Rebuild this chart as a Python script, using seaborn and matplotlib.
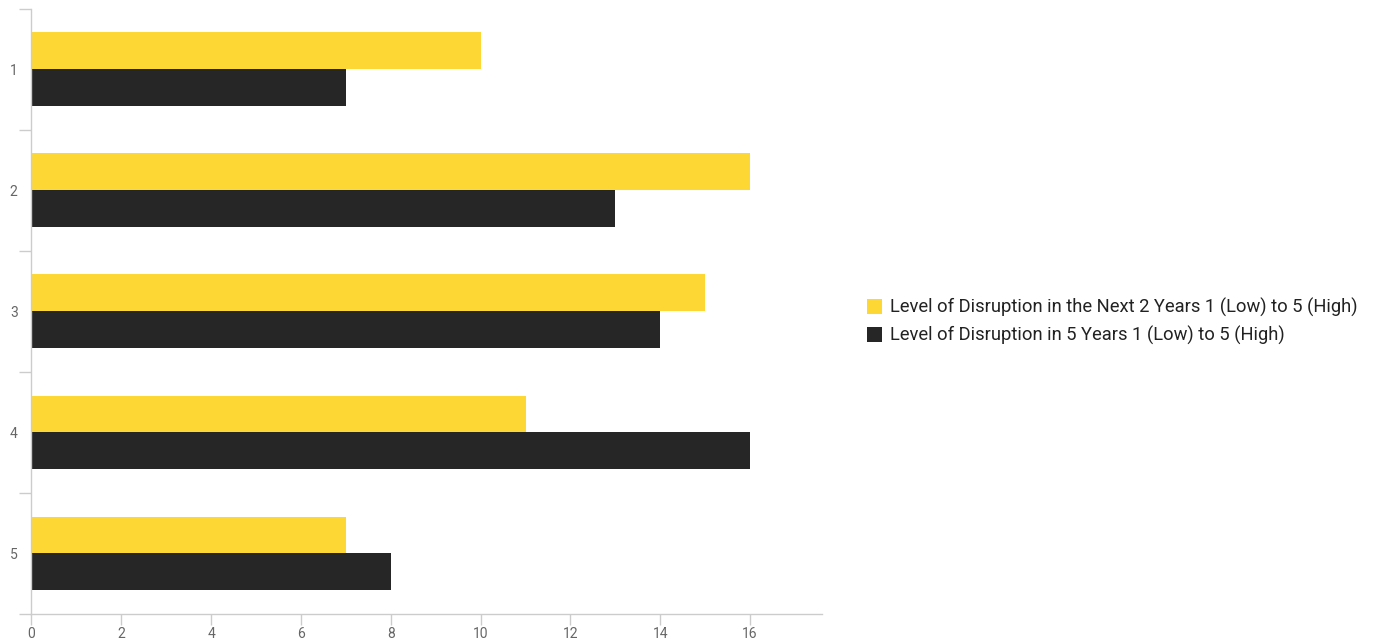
import matplotlib
matplotlib.use("Agg")
import matplotlib.pyplot as plt
import seaborn as sns
import pandas as pd
from matplotlib.patches import Patch

categories = ["1", "2", "3", "4", "5"]
series_names = ["Level of Disruption in the Next 2 Years 1 (Low) to 5 (High)",
                "Level of Disruption in 5 Years 1 (Low) to 5 (High)"]
next2_values = [10, 16, 15, 11, 7]
five_values = [7, 13, 14, 16, 8]
x_ticks = [0, 2, 4, 6, 8, 10, 12, 14, 16]
colors = ["#FDD835", "#262626"]

df = pd.DataFrame({
    "category": categories * 2,
    "value": next2_values + five_values,
    "series": [series_names[0]] * 5 + [series_names[1]] * 5,
})

sns.set_theme(style="white")
plt.rcParams["font.family"] = ["Roboto", "DejaVu Sans"]

fig = plt.figure(figsize=(13.81, 6.43), dpi=100)
ax = fig.add_axes([0.0228, 0.0451, 0.5724, 0.9412])

sns.barplot(data=df, y="category", x="value", hue="series", order=categories,
            hue_order=series_names, palette=colors, orient="h", width=0.61,
            saturation=1, ax=ax, legend=False, linewidth=0)

ax.set_xlim(0, 17.6)
ax.set_ylim(4.5, -0.5)
ax.set_xlabel("")
ax.set_ylabel("")
ax.set_xticks(x_ticks)
ax.set_xticklabels([str(t) for t in x_ticks], color="#666666", fontsize=10)
ax.tick_params(axis="x", length=8, width=1, color="#cccccc", pad=1, bottom=True)

ax.set_yticks([i - 0.5 for i in range(len(categories) + 1)])
ax.set_yticklabels([""] * (len(categories) + 1))
ax.set_yticks(range(len(categories)), minor=True)
ax.set_yticklabels(categories, minor=True, color="#666666", fontsize=10)
ax.tick_params(axis="y", which="major", length=9, width=1, color="#cccccc", left=True)
ax.tick_params(axis="y", which="minor", length=0, pad=10, left=True)

for s in ["top", "right"]:
    ax.spines[s].set_visible(False)
for s in ["left", "bottom"]:
    ax.spines[s].set_color("#cccccc")
    ax.spines[s].set_linewidth(1)

handles = [Patch(facecolor=c, edgecolor="none") for c in colors]
fig.legend(handles, series_names, loc="center left", bbox_to_anchor=(0.6155, 0.5),
           frameon=False, fontsize=13.2, handlelength=0.85, handleheight=0.85,
           handletextpad=0.45, labelspacing=0.5, labelcolor="#222222")

fig.savefig("out.png", dpi=100)
